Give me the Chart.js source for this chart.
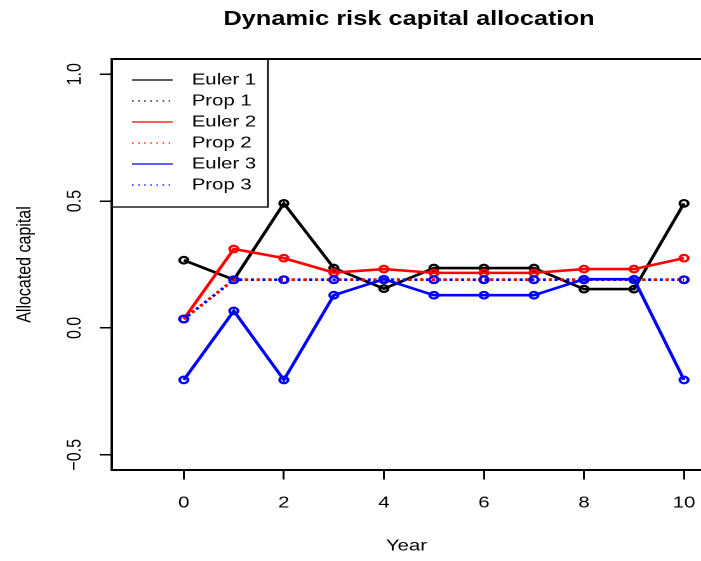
<!DOCTYPE html>
<html>
<head>
<meta charset="utf-8">
<title>Dynamic risk capital allocation</title>
<script src="https://cdn.jsdelivr.net/npm/chart.js@4.4.1/dist/chart.umd.min.js"></script>
<style>
  html, body { margin: 0; padding: 0; background: #fff; overflow: hidden; }
  /* the reference picture is stretched sideways, so the chart is too */
  #wrap { width: 552px; height: 561px; transform: scaleX(1.27); transform-origin: 0 0; }
</style>
</head>
<body>
<div id="wrap"><canvas id="myChart" width="552" height="561"></canvas></div>
<script>
const years = [0, 1, 2, 3, 4, 5, 6, 7, 8, 9, 10];
const euler1 = [0.267, 0.19, 0.491, 0.236, 0.155, 0.236, 0.236, 0.236, 0.153, 0.153, 0.491];
const prop1 = [0.035, 0.19, 0.19, 0.19, 0.19, 0.19, 0.19, 0.19, 0.19, 0.19, 0.19];
const euler2 = [0.035, 0.311, 0.275, 0.218, 0.232, 0.217, 0.217, 0.217, 0.232, 0.232, 0.275];
const prop2 = [0.035, 0.19, 0.19, 0.19, 0.19, 0.19, 0.19, 0.19, 0.19, 0.19, 0.19];
const euler3 = [-0.205, 0.067, -0.205, 0.129, 0.192, 0.129, 0.129, 0.129, 0.192, 0.192, -0.205];
const prop3 = [0.035, 0.19, 0.19, 0.19, 0.19, 0.19, 0.19, 0.19, 0.19, 0.19, 0.19];
const xTicks = [0, 2, 4, 6, 8, 10];
const yTicks = [-0.5, 0, 0.5, 1];

const FONT = "'Liberation Sans', Arial, Helvetica, sans-serif";

function series(label, values, color, dotted, dashOffset, order) {
  return {
    label: label,
    data: years.map((x, i) => ({ x: x, y: values[i] })),
    borderColor: color,
    backgroundColor: "rgba(0,0,0,0)",
    borderWidth: 2.6,
    borderDash: dotted ? [2.5, 6.7] : [],
    borderDashOffset: dashOffset,
    pointStyle: "circle",
    pointRadius: 3.3,
    pointBorderWidth: 2.2,
    pointBorderColor: color,
    pointBackgroundColor: "rgba(0,0,0,0)",
    tension: 0,
    fill: false,
    order: order,
  };
}

// R style box round the plot (right side is off the page)
const plotBox = {
  id: "plotBox",
  afterDraw(chart) {
    const { ctx, chartArea: a } = chart;
    ctx.save();
    ctx.strokeStyle = "#000";
    ctx.lineWidth = 2;
    ctx.beginPath();
    ctx.moveTo(a.right + 5, a.top);
    ctx.lineTo(a.left, a.top);
    ctx.lineTo(a.left, a.bottom);
    ctx.lineTo(a.right + 5, a.bottom);
    ctx.stroke();
    ctx.restore();
  },
};

// legend in the top left corner, like legend("topleft", ...)
const rLegend = {
  id: "rLegend",
  afterDatasetsDraw(chart) {
    const { ctx, chartArea: a } = chart;
    ctx.save();
    ctx.fillStyle = "#fff";
    ctx.strokeStyle = "#000";
    ctx.lineWidth = 1.3;
    ctx.fillRect(a.left, a.top, 123, 148);
    ctx.strokeRect(a.left, a.top, 123, 148);
    ctx.font = "16px " + FONT;
    ctx.textBaseline = "middle";
    ctx.textAlign = "left";
    chart.data.datasets.forEach((ds, i) => {
      const y = a.top + 21 + i * 21;
      ctx.strokeStyle = ds.borderColor;
      ctx.lineWidth = 1.2;
      ctx.setLineDash(ds.borderDash.length ? [1.2, 3.6] : []);
      ctx.beginPath();
      ctx.moveTo(a.left + 16, y);
      ctx.lineTo(a.left + 48, y);
      ctx.stroke();
      ctx.setLineDash([]);
      ctx.fillStyle = "#000";
      ctx.fillText(ds.label, a.left + 63, y);
    });
    ctx.restore();
  },
};

const mainTitle = {
  id: "mainTitle",
  afterDraw(chart) {
    const { ctx } = chart;
    ctx.save();
    ctx.font = "bold 20px " + FONT;
    ctx.fillStyle = "#000";
    ctx.textAlign = "center";
    ctx.textBaseline = "alphabetic";
    ctx.fillText("Dynamic risk capital allocation", 322, 25);
    ctx.restore();
  },
};

const ctx = document.getElementById("myChart");

new Chart(ctx, {
  type: "line",
  data: {
    datasets: [
      series("Euler 1", euler1, "#000000", false, 0, 6),
      series("Prop 1", prop1, "#000000", true, 0, 5),
      series("Euler 2", euler2, "#ff0000", false, 0, 4),
      series("Prop 2", prop2, "#ff0000", true, 0, 3),
      series("Euler 3", euler3, "#0000ff", false, 0, 2),
      series("Prop 3", prop3, "#0000ff", true, 4.6, 1),
    ],
  },
  options: {
    responsive: false,
    devicePixelRatio: 2,
    animation: false,
    events: [],
    layout: { autoPadding: false, padding: { top: 59, left: 0, right: 0, bottom: 0 } },
    plugins: {
      legend: { display: false },
      title: { display: false },
      tooltip: { enabled: false },
    },
    scales: {
      x: {
        type: "linear",
        min: -1.44,
        max: 10.34,
        afterBuildTicks: (scale) => {
          scale.ticks = xTicks.map((v) => ({ value: v }));
        },
        afterFit: (scale) => {
          scale.height = 91;
          scale.paddingLeft = 0;
          scale.paddingRight = 0;
        },
        grid: { drawOnChartArea: false, drawTicks: true, tickLength: 9.5, color: "#000", lineWidth: 1.5 },
        border: { display: false },
        ticks: {
          color: "#000",
          font: { family: FONT, size: 16 },
          padding: 14,
          maxRotation: 0,
          callback: (v) => String(v),
        },
        title: {
          display: true,
          text: "Year",
          color: "#000",
          font: { family: FONT, size: 16 },
          padding: { top: 0, bottom: 5.5 },
        },
      },
      y: {
        type: "linear",
        min: -0.56,
        max: 1.06,
        afterBuildTicks: (scale) => {
          scale.ticks = yTicks.map((v) => ({ value: v }));
        },
        afterFit: (scale) => {
          scale.width = 88;
          scale.paddingTop = 0;
          scale.paddingBottom = 0;
        },
        grid: { drawOnChartArea: false, drawTicks: true, tickLength: 9.5, color: "#000", lineWidth: 1.5 },
        border: { display: false },
        ticks: {
          color: "#000",
          font: { family: FONT, size: 16 },
          padding: 3.6,
          minRotation: 90,
          maxRotation: 90,
          crossAlign: "center",
          callback: (v) => v.toFixed(1).replace("-", "\u2212"),
        },
        title: {
          display: true,
          text: "Allocated capital",
          color: "#000",
          font: { family: FONT, size: 16 },
          padding: { top: 9.8, bottom: 0 },
        },
      },
    },
  },
  plugins: [plotBox, rLegend, mainTitle],
});
</script>
</body>
</html>
